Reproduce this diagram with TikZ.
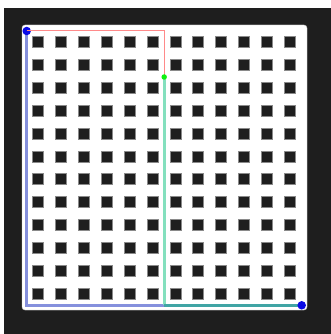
\documentclass[tikz,border=0pt]{standalone}
\usepackage{xcolor}
\usepackage{tikz}
\usetikzlibrary{calc}
\definecolor{board}{HTML}{1E1E1E}
\definecolor{cellgray}{HTML}{8A8A8A}
\definecolor{route}{HTML}{8590DD}
\definecolor{mint}{HTML}{84E0BE}
\definecolor{teal}{HTML}{40A4A4}
\definecolor{probe}{HTML}{FF8A8A}
\definecolor{endblue}{HTML}{0A0AE6}
\definecolor{waygreen}{HTML}{10F010}
\tikzset{
  cell/.style={rectangle,draw=cellgray,line width=0.7pt,fill=board,minimum size=11pt,inner sep=0pt},
  endpoint/.style={circle,fill=endblue,minimum size=8.5pt,inner sep=0pt},
  waypoint/.style={circle,fill=waygreen,minimum size=5.5pt,inner sep=0pt},
  longpath/.style={draw=route,line width=3pt},
  shortpath/.style={draw=mint,line width=3pt},
  sharedpath/.style={draw=teal,line width=3pt},
  probepath/.style={draw=probe,line width=1pt}
}

\begin{document}
\begin{tikzpicture}[x=1pt,y=-1pt]
  \useasboundingbox (0,0) rectangle (331,334);
  \fill[board] (4,8) rectangle (331,334);
  \fill[white,draw=gray!40,line width=0.4pt,rounded corners=3pt] (22,25) rectangle (307,310);
  % grid of blocks
  \foreach \i in {0,...,11}
    \foreach \j in {0,...,11}
      \node[cell] (c-\i-\j) at (37.8+22.93*\i,41.7+22.93*\j) {};
  \coordinate (start) at (26.7,31);
  \coordinate (goal) at (301.7,305.3);
  \coordinate (mid) at (164.2,77);
  \coordinate (turn) at (mid |- goal);
  \draw[longpath] (start) |- (goal);
  \draw[shortpath] (mid) -- (turn);
  \draw[sharedpath] (turn) -- (goal);
  \node[endpoint] (s) at (start) {};
  \node[endpoint] (g) at (goal) {};
  \draw[probepath] (s.center) -| (mid);
  \node[waypoint] (w) at (mid) {};
\end{tikzpicture}
\end{document}
